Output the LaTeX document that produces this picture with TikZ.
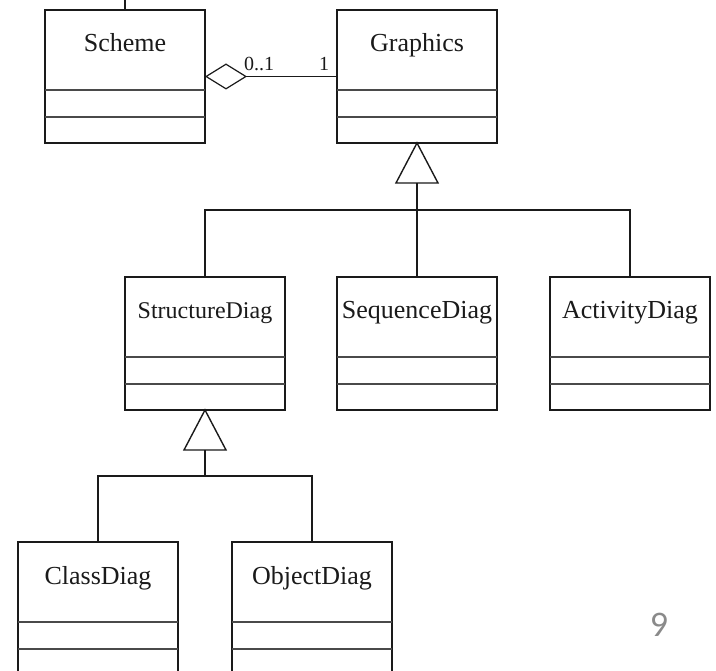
\documentclass[tikz,border=0pt]{standalone}
\usepackage{fontspec}
\setmainfont{Liberation Serif}
\newfontfamily\numfont{Carlito}
\usetikzlibrary{arrows.meta,calc}

\definecolor{ink}{HTML}{1A1A1A}
\definecolor{rule}{HTML}{4A4A4A}
\definecolor{pagegray}{HTML}{8A8A8A}

\tikzset{
  classbox/.style={draw=ink, line width=1.8pt, inner sep=0pt, outer sep=0pt,
    minimum width=160pt, minimum height=133pt, anchor=north west},
  classname/.style={anchor=base, inner sep=0pt, text=ink,
    font=\fontsize{26}{30}\selectfont},
  divider/.style={draw=rule, line width=1.2pt},
  link/.style={draw=ink, line width=1.4pt},
  gentri/.style={draw=ink, fill=white, line width=1.4pt, line join=miter},
  agg/.style={draw=ink, line width=1.2pt,
    {Diamond[open, length=42pt, width=26pt, line width=1.2pt]}-},
  mult/.style={anchor=base, inner sep=0pt, text=ink,
    font=\fontsize{20}{24}\selectfont},
  pagenum/.style={text=pagegray, inner sep=0pt,
    font=\numfont\fontsize{36}{40}\selectfont},
}

% class box with name compartment and two empty compartments
\newcommand\umlclass[5][]{%
  \node[classbox] (#2) at (#3,#4) {};
  \node[classname,#1] (#2-name) at ($(#2.north)+(0,42)$) {#5};
  \draw[divider] ($(#2.north west)+(0,80)$) -- ($(#2.north east)+(0,80)$);
  \draw[divider] ($(#2.north west)+(0,107)$) -- ($(#2.north east)+(0,107)$);
}

% hollow generalization triangle hanging below a class
\newcommand\gentriangle[1]{%
  \coordinate (#1-tri) at ($(#1.south)+(0,40)$);
  \draw[gentri] (#1.south) -- ($(#1-tri)+(21,0)$) -- ($(#1-tri)+(-21,0)$) -- cycle;
}

\begin{document}
\begin{tikzpicture}[x=1pt, y=-1pt]
  \useasboundingbox (0,0) rectangle (716,671);
  \clip (0,0) rectangle (716,671);

  % classes
  \umlclass{scheme}{45}{10}{Scheme}
  \umlclass{graphics}{337}{10}{Graphics}
  \umlclass[font=\fontsize{24}{28}\selectfont]{structure}{125}{277}{StructureDiag}
  \umlclass{sequence}{337}{277}{SequenceDiag}
  \umlclass{activity}{550}{277}{ActivityDiag}
  \umlclass{classd}{18}{542}{ClassDiag}
  \umlclass{objectd}{232}{542}{ObjectDiag}

  % association leaving the top edge
  \coordinate (schemeup) at ($(scheme.north)+(0,-15)$);
  \draw[link] (scheme.north) -- (schemeup);

  % aggregation Scheme <>-- Graphics
  \draw[agg] (scheme.east) -- (graphics.west);
  \node[mult] (m01) at (259,71) {0..1};
  \node[mult] (m1) at (324,71) {1};

  % generalization to Graphics
  \gentriangle{graphics}
  \coordinate (gjoin) at ($(graphics.south)+(0,67)$);
  \draw[link] (gjoin) -- (graphics-tri);
  \draw[link] (structure.north) |- (gjoin) -| (activity.north);
  \draw[link] (sequence.north) -- (gjoin);

  % generalization to StructureDiag
  \gentriangle{structure}
  \coordinate (sjoin) at ($(structure.south)+(0,66)$);
  \draw[link] (sjoin) -- (structure-tri);
  \draw[link] (classd.north) |- (sjoin) -| (objectd.north);

  % page number
  \node[pagenum] (page) at (659,625) {9};
\end{tikzpicture}
\end{document}
